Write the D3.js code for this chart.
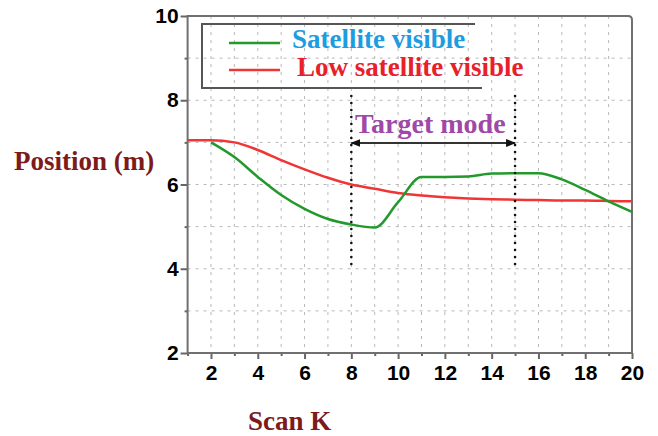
<!DOCTYPE html>
<html><head><meta charset="utf-8">
<script src="https://cdn.jsdelivr.net/npm/d3@7"></script>
<style>body{margin:0;background:#fff}svg{display:block}</style>
</head><body>
<script>
const scanK = [1,2,3,4,5,6,7,8,9,10,11,12,13,14,15,16,17,18,19,20];
const satelliteVisible = [null,7.0,6.65,6.18,5.75,5.42,5.18,5.05,4.98,5.58,6.18,6.18,6.19,6.26,6.27,6.27,6.12,5.87,5.6,5.35];
const lowSatelliteVisible = [7.05,7.05,7.0,6.82,6.58,6.36,6.16,6.0,5.9,5.8,5.74,5.7,5.67,5.65,5.64,5.63,5.62,5.62,5.61,5.6];
const xTickLabels = [2,4,6,8,10,12,14,16,18,20];
const yTickLabels = [2,4,6,8,10];
const targetStart = 8, targetEnd = 15;

const W = 658, H = 436;
const svg = d3.select("body").append("svg").attr("width", W).attr("height", H);
const x = d3.scaleLinear().domain([1,20]).range([187.6,632]);
const y = d3.scaleLinear().domain([2,10]).range([353,16]);

// grid
const grid = svg.append("g").attr("stroke","#b8b8b8").attr("stroke-width",1).attr("stroke-dasharray","3,5");
d3.range(2,20).forEach(v=>grid.append("line").attr("x1",x(v)).attr("x2",x(v)).attr("y1",y(10)).attr("y2",y(2)));
d3.range(3,10).forEach(v=>grid.append("line").attr("x1",x(1)).attr("x2",x(20)).attr("y1",y(v)).attr("y2",y(v)));

// axes
const xAxis = d3.axisBottom(x).tickValues(d3.range(1,21)).tickSize(6)
  .tickFormat(d=>xTickLabels.includes(d)?d:"");
const gx = svg.append("g").attr("transform",`translate(0,${y(2)})`).call(xAxis);
gx.selectAll(".tick line").attr("stroke","#666").attr("stroke-width",2).attr("y2",d=>d%2===0?6:3);
gx.selectAll("text").attr("font-family","Liberation Sans, Arial, sans-serif").attr("font-weight","bold")
  .attr("font-size",21).attr("fill","#000").attr("dy","0.88em");
const yAxis = d3.axisLeft(y).tickValues(d3.range(2,11)).tickSize(6)
  .tickFormat(d=>yTickLabels.includes(d)?d:"");
const gy = svg.append("g").attr("transform",`translate(${x(1)},0)`).call(yAxis);
gy.selectAll(".tick line").attr("stroke","#666").attr("stroke-width",2).attr("x2",d=>d%2===0?-7:-3);
gy.selectAll("text").attr("font-family","Liberation Sans, Arial, sans-serif").attr("font-weight","bold")
  .attr("font-size",21).attr("fill","#000").attr("x",-9);
svg.selectAll(".domain").remove();

// frame
svg.append("path").attr("fill","none").attr("stroke","#707070").attr("stroke-width",2)
  .attr("d",`M${x(1)},${y(2)}V${y(10)}H${x(20)-4}Q${x(20)},${y(10)} ${x(20)},${y(10)+4}V${y(2)}H${x(1)}`);

// lines
const line = d3.line().defined(d=>d[1]!==null).x(d=>x(d[0])).y(d=>y(d[1])).curve(d3.curveMonotoneX);
svg.append("path").datum(scanK.map((k,i)=>[k,lowSatelliteVisible[i]]))
  .attr("fill","none").attr("stroke","#f03535").attr("stroke-width",2.5).attr("d",line);
svg.append("path").datum(scanK.map((k,i)=>[k,satelliteVisible[i]]))
  .attr("fill","none").attr("stroke","#23992b").attr("stroke-width",2.5).attr("d",line);

// target mode annotation
[targetStart,targetEnd].forEach(v=>svg.append("line").attr("x1",x(v)).attr("x2",x(v)).attr("y1",96).attr("y2",268)
  .attr("stroke","#111").attr("stroke-width",2.6).attr("stroke-linecap","round").attr("stroke-dasharray","0,7"));
const defs = svg.append("defs");
defs.append("marker").attr("id","ah").attr("viewBox","0 0 10 10").attr("refX",9).attr("refY",5)
  .attr("markerWidth",5).attr("markerHeight",5).attr("orient","auto-start-reverse")
  .append("path").attr("d","M0,1L10,5L0,9Z").attr("fill","#111");
svg.append("line").attr("x1",x(targetStart)).attr("x2",x(targetEnd)).attr("y1",143).attr("y2",143)
  .attr("stroke","#333").attr("stroke-width",2).attr("marker-start","url(#ah)").attr("marker-end","url(#ah)");
svg.append("text").attr("x",355).attr("y",133).text("Target mode")
  .attr("font-family","Liberation Serif, Times New Roman, serif").attr("font-weight","bold")
  .attr("font-size",28).attr("fill","#a047a8");

// legend
svg.append("path").attr("fill","none").attr("stroke","#555").attr("stroke-width",2)
  .attr("d","M475,24H202V88H482");
const leg = [["Satellite visible","#23992b","#1e9ce0",43,48],["Low satellite visible","#f03535","#e8202a",70,76]];
leg.forEach(([t,lc,tc,ly,ty])=>{
  svg.append("line").attr("x1",229).attr("x2",280).attr("y1",ly).attr("y2",ly).attr("stroke",lc).attr("stroke-width",2.5);
  svg.append("text").attr("x",t.startsWith("Low")?297:292).attr("y",ty).text(t)
    .attr("font-family","Liberation Serif, Times New Roman, serif").attr("font-weight","bold")
    .attr("font-size",27).attr("fill",tc);
});

// axis titles
svg.append("text").attr("x",14).attr("y",170).text("Position (m)")
  .attr("font-family","Liberation Serif, Times New Roman, serif").attr("font-weight","bold")
  .attr("font-size",27).attr("fill","#7d1a1a");
svg.append("text").attr("x",248).attr("y",430).text("Scan K")
  .attr("font-family","Liberation Serif, Times New Roman, serif").attr("font-weight","bold")
  .attr("font-size",27).attr("fill","#7d1a1a");
</script>
</body></html>
